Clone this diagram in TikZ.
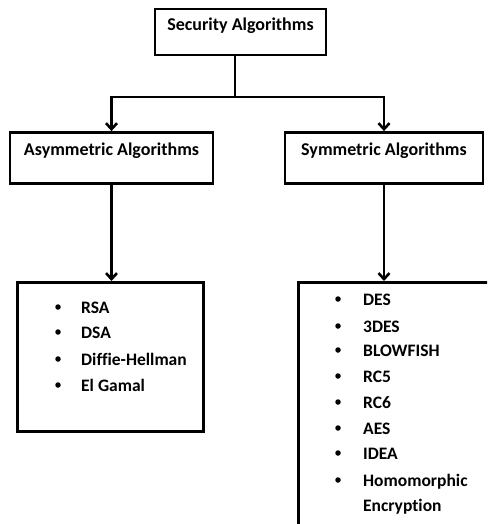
\documentclass[tikz,border=0pt]{standalone}
\usepackage{fontspec}
\setmainfont[Ligatures={NoCommon}]{Carlito}
\usetikzlibrary{arrows.meta}
\begin{document}
\begin{tikzpicture}[x=1pt,y=-1pt,
  box/.style={draw,line width=2.8pt,inner xsep=0pt,inner ysep=0pt,font=\bfseries\fontsize{18}{21}\selectfont},
  item/.style={anchor=base west,inner sep=0pt,font=\bfseries\fontsize{17.5}{20}\selectfont},
  dot/.style={circle,fill,inner sep=0pt,minimum size=5.5pt},
  conn/.style={line width=2.8pt},
  arr/.style={conn,-{Straight Barb[length=6pt,width=11pt,line width=2.6pt]}}]
\useasboundingbox (0,0) rectangle (487,524);
\clip (0,0) rectangle (487,524);
\fill[white] (0,0) rectangle (487,524);
% top
\node[box,minimum width=171pt,text height=22pt,text depth=24pt] (top) at (240.5,32) {Security Algorithms};
\node[box,minimum width=203pt,text height=23pt,text depth=28pt] (asym) at (111.5,158) {Asymmetric Algorithms};
\node[box,minimum width=198pt,text height=23pt,text depth=28pt] (sym) at (384,158) {Symmetric Algorithms};
\node[draw,line width=2.8pt,minimum width=186pt,minimum height=149pt,inner sep=0pt,anchor=north west] (llist) at (16,281) {};
\node[draw,line width=2.8pt,minimum width=220pt,minimum height=280pt,inner sep=0pt,anchor=north west] (rlist) at (297,281) {};
\coordinate (j) at (235,97);
\draw[conn] (top.south -| j) -- (j);
\draw[arr] (j) -| (asym.north);
\draw[arr] (j) -| (sym.north);
\draw[arr] (asym.south) -- (asym.south |- llist.north);
\draw[arr] (sym.south) -- (sym.south |- rlist.north);
% left list
\foreach \t/\y [count=\i] in {RSA/313, DSA/338, Diffie-Hellman/365, El Gamal/391}{
  \node[dot] (ld\i) at (58,\y-6) {};
  \node[item] (lt\i) at (81,\y) {\t};
}
% right list
\foreach \t/\y [count=\i] in {DES/305, 3DES/332, BLOWFISH/356, RC5/382, RC6/408, AES/434, IDEA/459, Homomorphic/486}{
  \node[dot] (rd\i) at (338,\y-6) {};
  \node[item] (rt\i) at (363,\y) {\t};
}
\node[item] (rt9) at (363,511) {Encryption};
\end{tikzpicture}
\end{document}
